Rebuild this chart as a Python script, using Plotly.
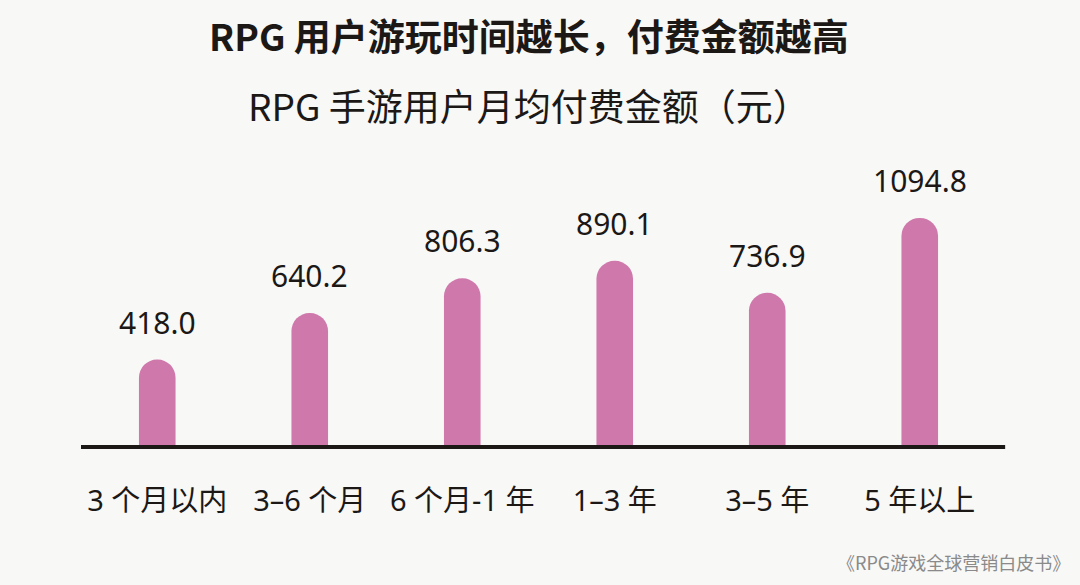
import plotly.graph_objects as go

categories = ["3 个月以内", "3–6 个月", "6 个月-1 年", "1–3 年", "3–5 年", "5 年以上"]
spend = [418.0, 640.2, 806.3, 890.1, 736.9, 1094.8]
labels = [f"{v:.1f}" for v in spend]

FONT = "Noto Sans CJK SC"
LATIN = "Noto Sans, Noto Sans CJK SC"
PINK = "#cf78ab"
INK = "#1c1816"

fig = go.Figure()
fig.add_trace(go.Bar(
    x=categories,
    y=spend,
    width=0.24,
    marker=dict(color=PINK, cornerradius="50%", line=dict(width=0)),
    hoverinfo="x+y",
))

# value labels above the bars
for c, v, t in zip(categories, spend, labels):
    fig.add_annotation(x=c, y=v, text=t, showarrow=False, yanchor="bottom",
                       yshift=15, font=dict(family=LATIN, size=30, color=INK))

fig.add_annotation(text="<b>RPG 用户游玩时间越长，付费金额越高</b>", xref="paper", yref="paper",
                   x=0.49, y=1, yshift=161, yanchor="middle", showarrow=False,
                   font=dict(family=FONT, size=37, color=INK))
fig.add_annotation(text="RPG 手游用户月均付费金额（元）", xref="paper", yref="paper",
                   x=0.49, y=1, yshift=91, yanchor="middle", showarrow=False,
                   font=dict(family=FONT, size=37, color=INK))
fig.add_annotation(text="《RPG游戏全球营销白皮书》", xref="paper", yref="paper",
                   x=1, xshift=76, y=0, yshift=-115, xanchor="right", yanchor="middle",
                   showarrow=False, font=dict(family=FONT, size=18, color="#8a8a8a"))

# baseline runs a little past the last category (paper refs so it isn't clipped)
fig.add_shape(type="line", xref="paper", yref="paper", x0=0, x1=1.01, y0=0, y1=0,
              line=dict(color=INK, width=4), layer="above")

fig.update_layout(
    width=1080,
    height=585,
    margin=dict(l=81, r=84, t=196, b=138),
    plot_bgcolor="#f8f8f7",
    paper_bgcolor="#f8f8f7",
    showlegend=False,
)
fig.update_xaxes(
    range=[-0.5, 5.5],
    showline=False, zeroline=False,
    ticks="", showgrid=False,
    ticklabelstandoff=34,
    tickfont=dict(family=LATIN, size=29, color=INK),
)
fig.update_yaxes(range=[0, 1200], visible=False, showgrid=False, zeroline=False)

fig.write_html("out.html", config={"displayModeBar": False},
               post_script="document.body.style.margin='0';")
